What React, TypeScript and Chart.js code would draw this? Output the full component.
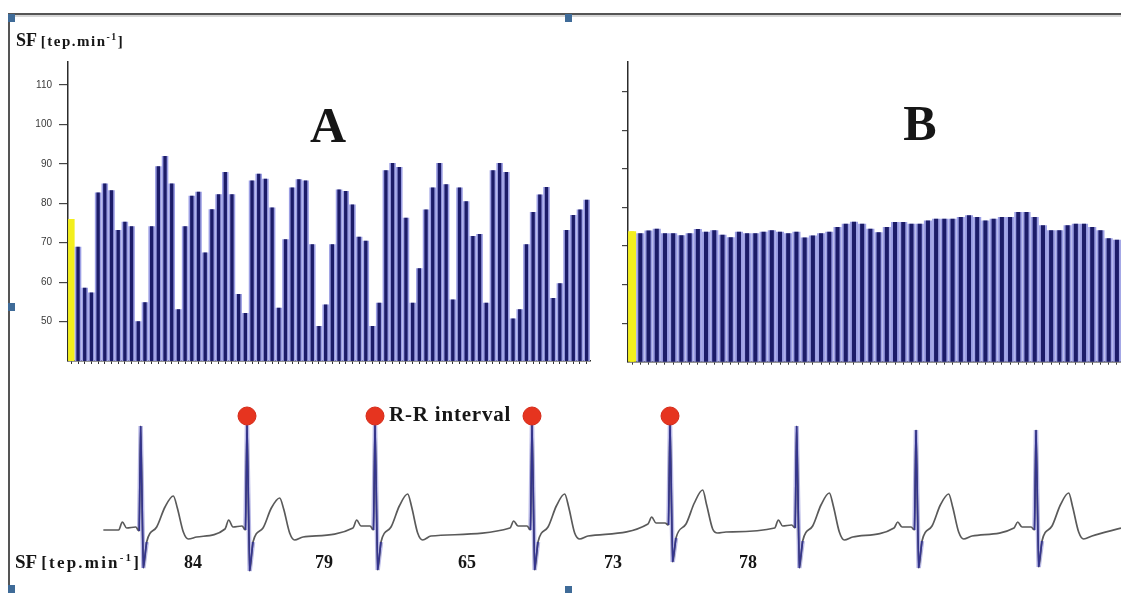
import React, { useEffect, useRef } from "react";
import { Chart, registerables } from "chart.js";

Chart.register(...registerables);

const W = 1121;
const H = 593;

// ---- Panel A : heart rate per beat (first bar = yellow marker) ----
const A_VALUES = [
  76, 69, 58.6, 57.4, 82.7, 85, 83.3, 73.2, 75.3, 74.2, 50.1, 54.9, 74.2, 89.4, 92, 85,
  53.1, 74.2, 81.9, 82.9, 67.5, 78.5, 82.3, 87.9, 82.3, 57, 52.2, 85.8, 87.5, 86.2, 78.9,
  53.5, 70.9, 84, 86.1, 85.8, 69.6, 48.9, 54.3, 69.6, 83.5, 83.1, 79.7, 71.5, 70.5, 48.9,
  54.8, 88.4, 90.2, 89.2, 76.3, 54.8, 63.5, 78.4, 84, 90.2, 84.8, 55.6, 84, 80.5, 71.7,
  72.2, 54.8, 88.4, 90.2, 87.9, 50.8, 53.1, 69.6, 77.8, 82.2, 84.1, 56, 59.7, 73.2, 77,
  78.4, 80.9,
];

// ---- Panel B ----
const B_VALUES = [
  73.8, 73.3, 74.0, 74.5, 73.3, 73.3, 72.8, 73.3, 74.4, 73.7, 74.1, 72.9, 72.3, 73.7, 73.3,
  73.3, 73.7, 74.1, 73.7, 73.3, 73.7, 72.2, 72.7, 73.3, 73.7, 74.9, 75.8, 76.3, 75.8, 74.5,
  73.6, 74.9, 76.2, 76.2, 75.8, 75.8, 76.6, 77.1, 77.1, 77.1, 77.5, 78.0, 77.5, 76.6, 77.1,
  77.5, 77.5, 78.8, 78.8, 77.5, 75.4, 74.1, 74.1, 75.4, 75.8, 75.8, 74.9, 74.1, 72.0, 71.6,
];

const Y_TICKS = [50, 60, 70, 80, 90, 100, 110];
const Y_MIN = 40;
const A_Y_MAX = 115.9;
const B_Y_MAX = 117.8;

// ---- ECG trace (time in ms, amplitude in mV) ----
const ECG_PHASES = ["P on", "P", "P off", "PR", "Q", "R", "S", "J", "ST", "T up", "T", "T down", "T off", "trough", "TP"];
const QRS_PHASES = ["Q", "R", "S", "J"];
const ECG_BEAT_MS = [
  [112, 134, 160, 214, 235, 244, 260, 280, 340, 390, 440, 464, 500, 530, 580],
  [750, 772, 798, 852, 873, 882, 898, 918, 978, 1028, 1078, 1102, 1138, 1168, 1218],
  [1518, 1540, 1566, 1620, 1641, 1650, 1666, 1686, 1746, 1796, 1846, 1870, 1906, 1936, 1986],
  [2460, 2482, 2508, 2562, 2583, 2592, 2608, 2628, 2688, 2738, 2788, 2812, 2848, 2878, 2928],
  [3288, 3310, 3336, 3390, 3411, 3420, 3436, 3456, 3516, 3566, 3616, 3640, 3676, 3706, 3756],
  [4048, 4070, 4096, 4150, 4171, 4180, 4196, 4216, 4276, 4326, 4376, 4400, 4436, 4466, 4516],
  [4764, 4786, 4812, 4866, 4887, 4896, 4912, 4932, 4992, 5042, 5092, 5116, 5152, 5182, 5232],
  [5484, 5506, 5532, 5586, 5607, 5616, 5632, 5652, 5712, 5762, 5812, 5836, 5872, 5902, 5952],
];
const ECG_BEAT_MV = [
  [0.0, 0.08, 0.02, 0.03, -0.01, 1.04, -0.38, -0.12, 0.03, 0.23, 0.34, 0.22, -0.02, -0.09, -0.07],
  [0.01, 0.1, 0.03, 0.04, 0.0, 1.05, -0.41, -0.12, 0.02, 0.22, 0.32, 0.21, -0.03, -0.1, -0.07],
  [0.02, 0.1, 0.04, 0.04, 0.0, 1.05, -0.4, -0.12, 0.03, 0.24, 0.36, 0.23, -0.03, -0.1, -0.06],
  [0.02, 0.09, 0.04, 0.04, 0.0, 1.05, -0.4, -0.12, 0.03, 0.24, 0.36, 0.23, -0.03, -0.09, -0.06],
  [0.06, 0.13, 0.07, 0.07, 0.05, 1.06, -0.32, -0.08, 0.06, 0.27, 0.4, 0.25, 0.01, -0.03, -0.02],
  [0.02, 0.1, 0.04, 0.05, 0.02, 1.04, -0.38, -0.11, 0.04, 0.25, 0.37, 0.24, -0.02, -0.1, -0.07],
  [0.02, 0.08, 0.03, 0.03, 0.0, 1.0, -0.38, -0.11, 0.04, 0.25, 0.36, 0.23, -0.02, -0.09, -0.06],
  [0.02, 0.08, 0.03, 0.03, 0.0, 1.0, -0.37, -0.11, 0.04, 0.25, 0.37, 0.23, -0.02, -0.09, -0.06],
];
const ECG_EDGE_MS = [20, 6126];
const ECG_EDGE_MV = [0.0, 0.02];
const ECG_X_RANGE = [-600, 6126];
const ECG_Y_RANGE = [-0.5, 1.3];
const DOT_BEATS = [1, 2, 3, 4];
const DOT_MV = 1.14;

const RATE_LABELS = ["84", "79", "65", "73", "78"];
const RATE_LABEL_X = [193, 324, 467, 613, 748];

const NAVY = "#1c1c68";
const LAVENDER = "#9c9fe4";
const YELLOW = "#f3ef1d";
const SERIF = "'Liberation Serif', 'Times New Roman', serif";

function makeBars(
  canvas: HTMLCanvasElement,
  values: number[],
  yMax: number,
  pad: { left: number; right: number; top: number; bottom: number },
  yWidth: number,
  showLabels: boolean
) {
  return new Chart(canvas, {
    type: "bar",
    data: {
      labels: values.map((_, i) => String(i)),
      datasets: [
        {
          data: values,
          backgroundColor: values.map((_, i) => (i === 0 ? YELLOW : NAVY)),
          barPercentage: 0.5,
          categoryPercentage: 1,
          grouped: false,
          borderWidth: 0,
        },
        {
          data: values,
          backgroundColor: values.map((_, i) => (i === 0 ? YELLOW : LAVENDER)),
          barPercentage: 0.98,
          categoryPercentage: 1,
          grouped: false,
          borderWidth: 0,
        },
      ],
    },
    options: {
      responsive: false,
      animation: false,
      events: [],
      layout: { padding: pad, autoPadding: false },
      plugins: { legend: { display: false }, tooltip: { enabled: false } },
      scales: {
        x: {
          offset: true,
          grid: { display: true, drawOnChartArea: false, drawTicks: true, tickLength: 3, color: "#333", offset: false },
          ticks: { display: false },
          border: { display: true, color: "#2b2b2b", width: 1.5 },
          afterFit: (s: any) => {
            s.height = 4;
          },
        },
        y: {
          min: Y_MIN,
          max: yMax,
          afterBuildTicks: (s: any) => {
            s.ticks = Y_TICKS.map((v) => ({ value: v }));
          },
          ticks: {
            display: showLabels,
            padding: 7,
            color: "#3a3a3a",
            font: { family: "'Liberation Sans', Arial, sans-serif", size: 10 },
          },
          grid: { drawOnChartArea: false, drawTicks: true, tickLength: showLabels ? 9 : 6, color: "#444", lineWidth: 1.2 },
          border: { display: true, color: "#2b2b2b", width: 1.5 },
          afterFit: (s: any) => {
            s.width = yWidth;
          },
        },
      },
    },
  });
}

function makeEcg(canvas: HTMLCanvasElement) {
  const trace: { x: number; y: number | null }[] = [{ x: ECG_EDGE_MS[0], y: ECG_EDGE_MV[0] }];
  const qrs: { x: number; y: number | null }[] = [];
  ECG_BEAT_MS.forEach((beat, b) => {
    beat.forEach((t, i) => {
      trace.push({ x: t, y: ECG_BEAT_MV[b][i] });
      if (QRS_PHASES.includes(ECG_PHASES[i])) qrs.push({ x: t, y: ECG_BEAT_MV[b][i] });
    });
    qrs.push({ x: beat[beat.length - 1], y: null });
  });
  trace.push({ x: ECG_EDGE_MS[1], y: ECG_EDGE_MV[1] });
  const rIdx = ECG_PHASES.indexOf("R");
  const dots = DOT_BEATS.map((b) => ({ x: ECG_BEAT_MS[b][rIdx], y: DOT_MV }));

  return new Chart(canvas, {
    type: "line",
    data: {
      datasets: [
        {
          data: dots,
          showLine: false,
          pointRadius: 9,
          pointBackgroundColor: "#e6341f",
          pointBorderColor: "#d42a18",
          pointBorderWidth: 1,
        },
        {
          data: qrs,
          borderColor: "#34348e",
          borderWidth: 1.6,
          pointRadius: 0,
          tension: 0,
          spanGaps: false,
        },
        {
          data: trace,
          borderColor: "#5a5a5a",
          borderWidth: 1.7,
          pointRadius: 0,
          cubicInterpolationMode: "monotone",
        },
        {
          data: qrs,
          borderColor: "rgba(140,140,215,0.6)",
          borderWidth: 4.5,
          pointRadius: 0,
          tension: 0,
          spanGaps: false,
        },
      ],
    },
    options: {
      responsive: false,
      animation: false,
      events: [],
      layout: { padding: { top: 400, bottom: 13, left: 0, right: 0 }, autoPadding: false },
      plugins: { legend: { display: false }, tooltip: { enabled: false } },
      scales: {
        x: { type: "linear", min: ECG_X_RANGE[0], max: ECG_X_RANGE[1], display: false },
        y: { min: ECG_Y_RANGE[0], max: ECG_Y_RANGE[1], display: false },
      },
    },
  });
}

function Txt(props: {
  x: number;
  base: number;
  size: number;
  center?: boolean;
  spacing?: number;
  children: React.ReactNode;
}) {
  const { x, base, size, center, spacing, children } = props;
  return (
    <div
      style={{
        position: "absolute",
        left: x,
        top: base - size * 0.8375,
        fontFamily: SERIF,
        fontWeight: "bold",
        fontSize: size,
        lineHeight: `${size}px`,
        color: "#161616",
        whiteSpace: "nowrap",
        letterSpacing: spacing ? `${spacing}px` : undefined,
        transform: center ? "translateX(-50%)" : undefined,
      }}
    >
      {children}
    </div>
  );
}

function Unit(props: { x: number; base: number; size: number; small: number; spacing: number }) {
  const { x, base, size, small, spacing } = props;
  return (
    <div
      style={{
        position: "absolute",
        left: x,
        top: base - size * 0.8375,
        fontFamily: SERIF,
        fontWeight: "bold",
        fontSize: size,
        lineHeight: `${size}px`,
        color: "#161616",
        whiteSpace: "nowrap",
      }}
    >
      SF{" "}
      <span style={{ fontSize: small, letterSpacing: `${spacing}px` }}>
        [tep.min
        <span style={{ fontSize: small * 0.65, position: "relative", top: -small * 0.4 }}>-1</span>]
      </span>
    </div>
  );
}

const handle = (left: number, top: number) => (
  <div style={{ position: "absolute", left, top, width: 7, height: 8, background: "#3f6b98" }} />
);

export default function App() {
  const aRef = useRef<HTMLCanvasElement>(null);
  const bRef = useRef<HTMLCanvasElement>(null);
  const eRef = useRef<HTMLCanvasElement>(null);

  useEffect(() => {
    const charts: Chart[] = [];
    if (aRef.current)
      charts.push(makeBars(aRef.current, A_VALUES, A_Y_MAX, { left: 28, right: 531, top: 61.7, bottom: 228 }, 40, true));
    if (bRef.current)
      charts.push(makeBars(bRef.current, B_VALUES, B_Y_MAX, { left: 620, right: 0, top: 61.7, bottom: 227.3 }, 8, false));
    if (eRef.current) charts.push(makeEcg(eRef.current));
    return () => charts.forEach((c) => c.destroy());
  }, []);

  const cv: React.CSSProperties = { position: "absolute", left: 0, top: 0, width: W, height: H };

  return (
    <div style={{ position: "fixed", left: 0, top: 0, width: W, height: H, background: "#fff", overflow: "hidden" }}>
      <canvas ref={aRef} width={W} height={H} style={cv} />
      <canvas ref={bRef} width={W} height={H} style={cv} />
      <canvas ref={eRef} width={W} height={H} style={cv} />

      {/* frame */}
      <div style={{ position: "absolute", left: 8, top: 13, width: W - 8, height: 2, background: "#555" }} />
      <div style={{ position: "absolute", left: 10, top: 15, width: W - 10, height: 2, background: "#d6d6d6" }} />
      <div style={{ position: "absolute", left: 8, top: 13, width: 2, height: H - 13, background: "#555" }} />
      {handle(8, 14)}
      {handle(565, 14)}
      {handle(8, 303)}
      {handle(8, 585)}
      {handle(565, 586)}

      <Unit x={16} base={46} size={18} small={15} spacing={1.5} />
      <Txt x={328} base={142} size={50} center>
        A
      </Txt>
      <Txt x={920} base={140} size={50} center>
        B
      </Txt>

      <Txt x={389} base={422} size={21} spacing={0.8}>
        R-R interval
      </Txt>

      <Unit x={15} base={568} size={19} small={17} spacing={2.2} />
      {RATE_LABELS.map((t, i) => (
        <Txt key={t} x={RATE_LABEL_X[i]} base={568} size={18} center>
          {t}
        </Txt>
      ))}
    </div>
  );
}
